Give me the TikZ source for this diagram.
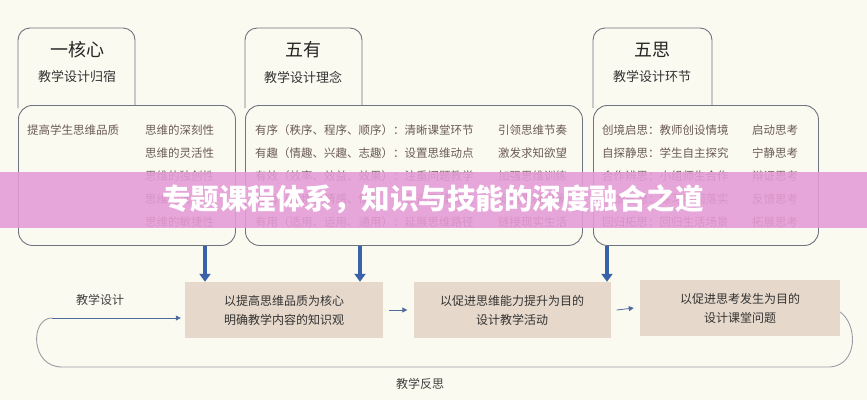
\documentclass[tikz,border=0pt]{standalone}
\usepackage{fontspec}
\setmainfont{Noto Sans CJK SC}
\usetikzlibrary{arrows.meta}
\definecolor{bg}{HTML}{FBFAF0}
\definecolor{edge}{HTML}{6E7480}
\definecolor{tan}{HTML}{E6D8CA}
\definecolor{ablue}{HTML}{3A62A8}
\definecolor{gtext}{HTML}{6A5A55}
\definecolor{pinkb}{HTML}{E59BD6}
\tikzset{
 x=1pt,y=-1pt,
 tab/.style={draw=edge,line width=0.9pt,rounded corners=12pt,fill=bg},
 content/.style={draw=edge,line width=0.9pt,rounded corners=14pt,fill=bg},
 htitle/.style={font=\fontsize{18}{20}\selectfont,text=black!85},
 hsub/.style={font=\fontsize{13}{15}\selectfont,text=black!80},
 ctext/.style={font=\fontsize{11.5}{13}\selectfont,text=gtext,anchor=west,inner sep=0},
 goal/.style={fill=tan,draw=none,font=\fontsize{12}{19}\selectfont,text=black!80,align=center},
 big/.style={-{Triangle[length=8pt,width=11pt]},line width=3.5pt,ablue},
 small/.style={-{Triangle[length=5pt,width=5pt]},line width=0.8pt,ablue!70!gray},
 loopl/.style={draw=edge!70,line width=0.9pt},
 lab/.style={font=\fontsize{12}{14}\selectfont,text=black!75}
}
\begin{document}
\begin{tikzpicture}
\useasboundingbox (0,0) rectangle (867,400);
\fill[bg] (0,0) rectangle (867,400);
% tabs
\draw[tab] (18,108) -- (18,28) -- (135,28) -- (135,108);
\draw[tab] (245,108) -- (245,28) -- (362,28) -- (362,108);
\draw[tab] (593,108) -- (593,28) -- (712,28) -- (712,108);
% contents
\node[content,minimum width=217pt,minimum height=140pt,anchor=north west] (c1) at (18,105) {};
\node[content,minimum width=337pt,minimum height=140pt,anchor=north west] (c2) at (245,105) {};
\node[content,minimum width=225pt,minimum height=140pt,anchor=north west] (c3) at (593,105) {};
% headings
\node[htitle] (h1) at (77,50) {一核心};
\node[hsub] (s1) at (77,77) {教学设计归宿};
\node[htitle] (h2) at (303,50) {五有};
\node[hsub] (s2) at (303,77) {教学设计理念};
\node[htitle] (h3) at (652,50) {五思};
\node[hsub] (s3) at (652,77) {教学设计环节};
% content texts
\node[ctext] (t1) at (27,130) {提高学生思维品质};
\node[ctext] (t1a) at (145,130) {思维的深刻性};
\node[ctext] (t1b) at (145,153) {思维的灵活性};
\node[ctext] (t1c) at (145,176) {思维的独创性};
\node[ctext] (t1d) at (145,199) {思维的批判性};
\node[ctext] (t1e) at (145,222) {思维的敏捷性};
\node[ctext] (t2a) at (255,130) {有序（秩序、程序、顺序）：清晰课堂环节};
\node[ctext] (t2b) at (255,153) {有趣（情趣、兴趣、志趣）：设置思维动点};
\node[ctext] (t2c) at (255,176) {有效（效率、效益、效果）：注重问题教学};
\node[ctext] (t2d) at (255,199) {有情（情境、情感、情怀）：营造思维情境};
\node[ctext] (t2e) at (255,222) {有用（适用、运用、通用）：延展思维路径};
\node[ctext] (u2a) at (498,130) {引领思维节奏};
\node[ctext] (u2b) at (498,153) {激发求知欲望};
\node[ctext] (u2c) at (498,176) {加强思维训练};
\node[ctext] (u2d) at (498,199) {促进思维发展};
\node[ctext] (u2e) at (498,222) {链接现实生活};
\node[ctext] (t3a) at (602,130) {创境启思：教师创设情境};
\node[ctext] (t3b) at (602,153) {自探静思：学生自主探究};
\node[ctext] (t3c) at (602,176) {合作辨思：小组师生合作};
\node[ctext] (t3d) at (602,199) {反馈省思：练习巩固落实};
\node[ctext] (t3e) at (602,222) {回归拓思：回归生活场景};
\node[ctext] (u3a) at (752,130) {启动思考};
\node[ctext] (u3b) at (752,153) {宁静思考};
\node[ctext] (u3c) at (752,176) {辩证思考};
\node[ctext] (u3d) at (752,199) {反馈思考};
\node[ctext] (u3e) at (752,222) {拓展思考};
% goal boxes
\node[goal,minimum width=198pt,minimum height=56pt] (g1) at (284,310) {以提高思维品质为核心\\明确教学内容的知识观};
\node[goal,minimum width=197pt,minimum height=56pt] (g2) at (512,310) {以促进思维能力提升为目的\\设计教学活动};
\node[goal,minimum width=200pt,minimum height=56pt] (g3) at (740,308) {以促进思考发生为目的\\设计课堂问题};
% big arrows
\draw[big] (c1.south -| 205,0) -- (g1.north -| 205,0);
\draw[big] (c2.south -| 360,0) -- (g1.north -| 360,0);
\draw[big] (c3.south -| 607,0) -- (g2.north -| 607,0);
% small arrows
\draw[small] ([xshift=6pt]g1.east) -- ([xshift=-6pt]g2.west);
\draw[small] ([xshift=6pt]g2.east) -- ([xshift=-6pt]g3.west);
% loop
\coordinate (ls) at (52,318);
\draw[loopl] ([yshift=-4pt]g3.east) .. controls (858,325) and (858,365) .. (830,367)
  -- (62,367) .. controls (30,367) and (30,318) .. (ls);
\draw[small] (ls) -- ([xshift=-4pt]g1.west |- ls);
\node[lab] (l1) at (100,300) {教学设计};
\node[lab] (l2) at (420,384) {教学反思};
% banner
\fill[pinkb,opacity=0.88] (0,172) rectangle (867,228);
\node[font=\fontsize{28.5}{30}\selectfont\bfseries,text=white] (ban) at (433,199) {专题课程体系，知识与技能的深度融合之道};
\end{tikzpicture}
\end{document}
